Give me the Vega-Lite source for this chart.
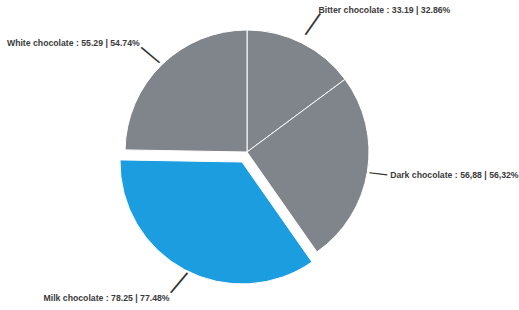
{
  "$schema": "https://vega.github.io/schema/vega-lite/v6.json",
  "width": 494,
  "height": 304,
  "autosize": {"type": "none"},
  "padding": {"left": 0, "top": 0, "right": 25, "bottom": 6},
  "background": "white",
  "config": {"view": {"stroke": null}},
  "data": {
    "values": [
      {"name": "Bitter chocolate", "value": 33.19, "label": "Bitter chocolate : 33.19 | 32.86%"},
      {"name": "Dark chocolate", "value": 56.88, "label": "Dark chocolate : 56,88 | 56,32%"},
      {"name": "Milk chocolate", "value": 78.25, "label": "Milk chocolate : 78.25 | 77.48%"},
      {"name": "White chocolate", "value": 55.29, "label": "White chocolate : 55.29 | 54.74%"}
    ]
  },
  "layer": [
    {
      "mark": {"type": "arc", "radius": 122, "stroke": "white", "strokeWidth": 1},
      "encoding": {
        "theta": {"field": "value", "type": "quantitative", "stack": true},
        "color": {"field": "name", "type": "nominal", "legend": null,
          "scale": {"domain": ["Bitter chocolate", "Dark chocolate", "Milk chocolate", "White chocolate"],
                    "range": ["#80848b", "#80848b", "#1b9de0", "#80848b"]}},
        "opacity": {"condition": {"test": "datum.name === 'Milk chocolate'", "value": 0}, "value": 1}
      }
    },
    {
      "mark": {"type": "arc", "radius": 122, "stroke": "white", "strokeWidth": 1, "xOffset": -5, "yOffset": 10},
      "encoding": {
        "theta": {"field": "value", "type": "quantitative", "stack": true},
        "color": {"field": "name", "type": "nominal", "legend": null},
        "opacity": {"condition": {"test": "datum.name === 'Milk chocolate'", "value": 1}, "value": 0}
      }
    },
    {
      "mark": {"type": "text", "radius": 159, "align": "left", "baseline": "middle", "font": "Liberation Sans", "fontWeight": "bold", "fontSize": 8.7, "color": "#3a3a3a"},
      "encoding": {
        "theta": {"field": "value", "type": "quantitative", "stack": true},
        "detail": {"field": "name"},
        "text": {"condition": {"test": "datum.name === 'Bitter chocolate'", "field": "label"}, "value": ""}
      }
    },
    {
      "mark": {"type": "text", "radius": 145, "align": "left", "baseline": "middle", "font": "Liberation Sans", "fontWeight": "bold", "fontSize": 8.7, "color": "#3a3a3a"},
      "encoding": {
        "theta": {"field": "value", "type": "quantitative", "stack": true},
        "detail": {"field": "name"},
        "text": {"condition": {"test": "datum.name === 'Dark chocolate'", "field": "label"}, "value": ""}
      }
    },
    {
      "mark": {"type": "text", "radius": 165, "align": "right", "baseline": "middle", "font": "Liberation Sans", "fontWeight": "bold", "fontSize": 8.7, "color": "#3a3a3a"},
      "encoding": {
        "theta": {"field": "value", "type": "quantitative", "stack": true},
        "detail": {"field": "name"},
        "text": {"condition": {"test": "datum.name === 'Milk chocolate'", "field": "label"}, "value": ""}
      }
    },
    {
      "mark": {"type": "text", "radius": 153, "align": "right", "baseline": "middle", "font": "Liberation Sans", "fontWeight": "bold", "fontSize": 8.7, "color": "#3a3a3a"},
      "encoding": {
        "theta": {"field": "value", "type": "quantitative", "stack": true},
        "detail": {"field": "name"},
        "text": {"condition": {"test": "datum.name === 'White chocolate'", "field": "label"}, "value": ""}
      }
    },
    {
      "mark": {"type": "text", "radius": 144, "angle": -55, "align": "center", "baseline": "middle", "font": "Liberation Sans", "fontSize": 26, "color": "#333333"},
      "encoding": {
        "theta": {"field": "value", "type": "quantitative", "stack": true},
        "detail": {"field": "name"},
        "text": {"condition": {"test": "datum.name === 'Bitter chocolate'", "value": "—"}, "value": ""}
      }
    },
    {
      "mark": {"type": "text", "radius": 133, "angle": 7, "align": "center", "baseline": "middle", "font": "Liberation Sans", "fontSize": 18, "color": "#333333"},
      "encoding": {
        "theta": {"field": "value", "type": "quantitative", "stack": true},
        "detail": {"field": "name"},
        "text": {"condition": {"test": "datum.name === 'Dark chocolate'", "value": "—"}, "value": ""}
      }
    },
    {
      "mark": {"type": "text", "radius": 147, "angle": -50, "align": "center", "baseline": "middle", "font": "Liberation Sans", "fontSize": 26, "color": "#333333"},
      "encoding": {
        "theta": {"field": "value", "type": "quantitative", "stack": true},
        "detail": {"field": "name"},
        "text": {"condition": {"test": "datum.name === 'Milk chocolate'", "value": "—"}, "value": ""}
      }
    },
    {
      "mark": {"type": "text", "radius": 137, "angle": 40, "align": "center", "baseline": "middle", "font": "Liberation Sans", "fontSize": 24, "color": "#333333"},
      "encoding": {
        "theta": {"field": "value", "type": "quantitative", "stack": true},
        "detail": {"field": "name"},
        "text": {"condition": {"test": "datum.name === 'White chocolate'", "value": "—"}, "value": ""}
      }
    }
  ]
}
